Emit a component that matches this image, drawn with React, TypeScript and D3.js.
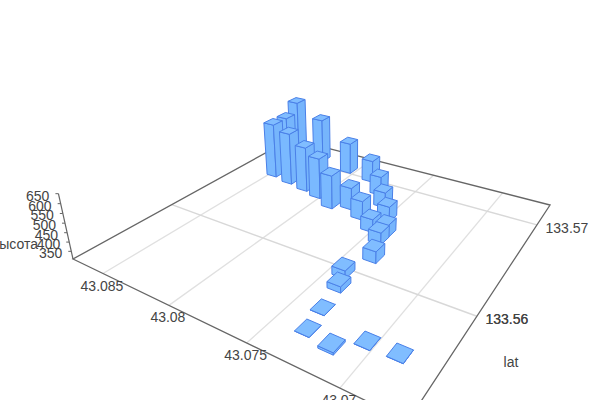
import React from "react";
import * as d3 from "d3";

const lonValues = [43.0735,43.07323,43.07168,43.07046,43.06884,43.0742,43.07377,43.07354,43.07421,43.07423,43.07527,43.07652,43.07776,43.07501,43.07608,43.07712,43.07856,43.08058,43.07887,43.0803,43.08162,43.08313,43.08471,43.08511,43.08525,43.08336];
const latValues = [133.55661,133.55497,133.55462,133.55572,133.5558,133.55964,133.55852,133.56174,133.56351,133.56441,133.56443,133.56535,133.56609,133.56601,133.56745,133.56878,133.57018,133.57055,133.56555,133.56628,133.56665,133.56696,133.56728,133.56924,133.57078,133.57117];
const heightValues = [309,309,319,309,309,351,340,371,374,377,381,416,435,395,397,419,439,497,502,546,573,618,636,615,671,579];
const lonTicks = [43.085,43.08,43.075,43.07];
const latTicks = [133.56,133.57];
const heightTicks = [350,400,450,500,550,600,650];

const uScale = d3.scaleLinear().domain([43.085,43.07]).range([0.1238,0.8492]);
const vScale = d3.scaleLinear().domain([133.56,133.57]).range([0.362,0.856]);
const zScale = d3.scaleLinear().domain([308,650]).range([0,1]);
const H = {a:211,b:351.9,c:73,d:34.1,e:-56.1,f:259,g:-.3039,h:.46,k:-.05,vx:350,vy:1500};
function project(u:number,v:number,z:number):[number,number]{
  const w=H.g*u+H.h*v+H.k*z+1;
  return [(H.a*u+H.b*v+H.c+H.k*H.vx*z)/w,(H.d*u+H.e*v+H.f+H.k*H.vy*z)/w];
}
const path=(ps:[number,number][])=>d3.line()(ps)+"Z";
const font='"Liberation Sans",Arial,sans-serif';
const du=.02, dv=.0245;
const FILL="#80bdff", STROKE="#4a80e8";

export default function App(){
  const bars=lonValues.map((lon,i)=>({u:uScale(lon),v:vScale(latValues[i]),z:zScale(heightValues[i])}))
    .sort((p,q)=>(H.g*q.u+H.h*q.v)-(H.g*p.u+H.h*p.v));
  return <svg width={600} height={400} style={{position:"absolute",left:0,top:0}} fontFamily={font} fontSize={14}>
    <rect width={600} height={400} fill="#fff"/>
    {lonTicks.map(t=><line key={t} x1={project(uScale(t),0,0)[0]} y1={project(uScale(t),0,0)[1]} x2={project(uScale(t),1,0)[0]} y2={project(uScale(t),1,0)[1]} stroke="#e0e0e0" strokeWidth={1.3}/>)}
    {latTicks.map(t=><line key={t} x1={project(0,vScale(t),0)[0]} y1={project(0,vScale(t),0)[1]} x2={project(1,vScale(t),0)[0]} y2={project(1,vScale(t),0)[1]} stroke="#d8d8d8" strokeWidth={1.5}/>)}
    <path d={path([project(0,0,0),project(1,0,0),project(1,1,0),project(0,1,0)])} fill="none" stroke="#666" strokeWidth={1.3}/>
    <line x1={project(0,0,0)[0]} y1={project(0,0,0)[1]} x2={project(0,0,zScale(650))[0]} y2={project(0,0,zScale(650))[1]} stroke="#666" strokeWidth={1.2}/>
    {heightTicks.map(t=>{const [x,y]=project(0,0,zScale(t));return <g key={t}>
      <line x1={x} y1={y} x2={x-3} y2={y} stroke="#666"/>
      <text x={x-9} y={y+7} textAnchor="end" fill="#444">{t}</text></g>;})}
    <text x={38} y={249} textAnchor="end" fill="#444">высота</text>
    {bars.map((b,i)=>{
      const u0=b.u-du,u1=b.u+du,v0=b.v-dv,v1=b.v+dv;
      const left:[number,number][]=[project(u0,v0,0),project(u1,v0,0),project(u1,v0,b.z),project(u0,v0,b.z)];
      const right:[number,number][]=[project(u1,v0,0),project(u1,v1,0),project(u1,v1,b.z),project(u1,v0,b.z)];
      const top:[number,number][]=[project(u0,v0,b.z),project(u1,v0,b.z),project(u1,v1,b.z),project(u0,v1,b.z)];
      return <g key={i} stroke={STROKE} strokeWidth={1} strokeLinejoin="round">
        <path d={path(left)} fill="#7ab9ff"/>
        <path d={path(right)} fill="#76b5fc"/>
        <path d={path(top)} fill={FILL}/>
      </g>;
    })}
    {lonTicks.map((t,i)=>{const [x,y]=project(uScale(t),0,0);return <text key={t} x={x-1} y={y+17} textAnchor="middle" fill="#444">{t}</text>;})}
    {latTicks.map(t=>{const [x,y]=project(1,vScale(t),0);return <g key={t}>
      <text x={x+30} y={y+8} textAnchor="middle" fill="#444">{t}</text>
      {t===133.56&&<text x={x+30} y={y+8} textAnchor="middle" fill="#444">{t}</text>}</g>;})}
    <text x={511} y={367} textAnchor="middle" fill="#444">lat</text>
  </svg>;
}
